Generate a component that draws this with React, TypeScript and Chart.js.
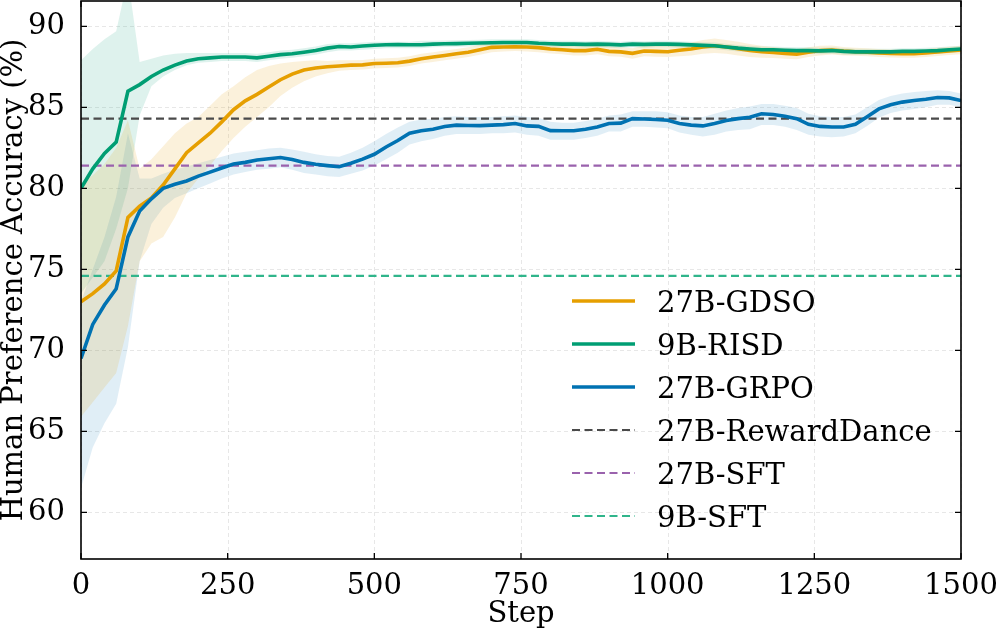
import { useEffect, useRef } from "react";
import { Chart, registerables } from "chart.js";

Chart.register(...registerables);

// Training steps at which each run was evaluated
const steps = [
  0, 20, 40, 60, 80, 100, 120, 140, 160, 180,
  200, 220, 240, 260, 280, 300, 320, 340, 360, 380,
  400, 420, 440, 460, 480, 500, 520, 540, 560, 580,
  600, 620, 640, 660, 680, 700, 720, 740, 760, 780,
  800, 820, 840, 860, 880, 900, 920, 940, 960, 980,
  1000, 1020, 1040, 1060, 1080, 1100, 1120, 1140, 1160, 1180,
  1200, 1220, 1240, 1260, 1280, 1300, 1320, 1340, 1360, 1380,
  1400, 1420, 1440, 1460, 1480, 1500,
];

// 27B-GDSO: mean accuracy and the spread band around it
const gdsoMean = [
  73.0, 73.5, 74.1, 74.9, 78.2, 78.9, 79.4, 80.2, 81.2, 82.2,
  82.8, 83.4, 84.1, 84.85, 85.4, 85.8, 86.25, 86.7, 87.05, 87.3,
  87.42, 87.5, 87.55, 87.6, 87.62, 87.7, 87.72, 87.75, 87.85, 88.0,
  88.1, 88.2, 88.3, 88.4, 88.55, 88.7, 88.72, 88.74, 88.72, 88.68,
  88.6, 88.55, 88.5, 88.5, 88.58, 88.45, 88.42, 88.33, 88.47, 88.45,
  88.43, 88.52, 88.6, 88.72, 88.8, 88.72, 88.62, 88.5, 88.43, 88.38,
  88.32, 88.28, 88.4, 88.5, 88.54, 88.47, 88.43, 88.4, 88.35, 88.32,
  88.3, 88.3, 88.35, 88.42, 88.48, 88.54,
];
const gdsoHigh = [
  80.3, 80.8, 81.5, 82.5, 84.2, 81.2, 81.8, 82.6, 83.4, 84.0,
  84.4, 85.1, 85.8, 86.3, 86.85, 87.3, 87.55, 87.7, 87.8, 87.85,
  87.9, 87.85, 87.9, 87.9, 87.92, 88.0, 88.02, 88.05, 88.15, 88.3,
  88.4, 88.5, 88.6, 88.7, 88.85, 89.0, 89.0, 89.02, 89.0, 88.96,
  88.88, 88.83, 88.8, 88.8, 88.88, 88.75, 88.7, 88.65, 88.8, 88.78,
  88.78, 88.9, 89.0, 89.15, 89.25, 89.15, 89.05, 88.9, 88.8, 88.72,
  88.65, 88.6, 88.7, 88.8, 88.82, 88.72, 88.68, 88.65, 88.6, 88.57,
  88.55, 88.55, 88.6, 88.67, 88.73, 88.8,
];
const gdsoLow = [
  65.9, 66.8, 67.7, 68.6, 71.5, 75.5, 76.6, 77.0, 78.2, 79.7,
  80.6, 81.4, 82.3, 83.1, 83.8, 84.4, 85.0, 85.7, 86.2, 86.6,
  86.9, 87.1, 87.25, 87.3, 87.33, 87.4, 87.43, 87.45, 87.55, 87.7,
  87.8, 87.9, 88.0, 88.1, 88.25, 88.4, 88.45, 88.47, 88.45, 88.4,
  88.32, 88.27, 88.2, 88.2, 88.28, 88.15, 88.12, 88.0, 88.15, 88.12,
  88.1, 88.15, 88.2, 88.3, 88.35, 88.3, 88.2, 88.1, 88.06, 88.04,
  88.0, 87.96, 88.1, 88.2, 88.26, 88.2, 88.18, 88.15, 88.1, 88.07,
  88.05, 88.05, 88.1, 88.17, 88.23, 88.28,
];

// 9B-RISD
const risdMean = [
  80.0, 81.2, 82.15, 82.85, 86.0, 86.4, 86.9, 87.3, 87.6, 87.85,
  88.0, 88.05, 88.1, 88.1, 88.1, 88.05, 88.15, 88.25, 88.3, 88.4,
  88.5, 88.65, 88.75, 88.72, 88.78, 88.83, 88.86, 88.87, 88.86, 88.86,
  88.9, 88.92, 88.93, 88.95, 88.97, 88.98, 89.0, 89.0, 89.0, 88.95,
  88.92, 88.9, 88.9, 88.88, 88.9, 88.88, 88.85, 88.9, 88.88, 88.9,
  88.9, 88.88, 88.85, 88.82, 88.8, 88.72, 88.65, 88.6, 88.55, 88.55,
  88.52, 88.5, 88.5, 88.48, 88.5, 88.45, 88.42, 88.42, 88.42, 88.42,
  88.45, 88.45, 88.47, 88.5, 88.55, 88.6,
];
const risdHigh = [
  87.9, 88.6, 89.2, 89.7, 93.0, 87.8, 88.0, 88.2, 88.3, 88.35,
  88.35, 88.35, 88.35, 88.35, 88.35, 88.3, 88.4, 88.5, 88.55, 88.65,
  88.75, 88.9, 88.95, 88.95, 89.0, 89.05, 89.05, 89.05, 89.05, 89.1,
  89.1, 89.12, 89.13, 89.15, 89.17, 89.2, 89.2, 89.2, 89.2, 89.15,
  89.12, 89.1, 89.1, 89.08, 89.1, 89.08, 89.05, 89.1, 89.08, 89.1,
  89.1, 89.08, 89.05, 89.02, 89.0, 88.92, 88.85, 88.8, 88.75, 88.75,
  88.72, 88.7, 88.7, 88.68, 88.7, 88.65, 88.62, 88.62, 88.62, 88.62,
  88.65, 88.65, 88.67, 88.7, 88.75, 88.8,
];
const risdLow = [
  73.5, 74.5, 75.5, 77.5, 80.0, 84.5, 86.3, 86.9, 87.3, 87.6,
  87.75, 87.8, 87.85, 87.85, 87.85, 87.8, 87.9, 88.0, 88.05, 88.15,
  88.25, 88.4, 88.5, 88.5, 88.55, 88.6, 88.65, 88.65, 88.65, 88.65,
  88.7, 88.72, 88.73, 88.75, 88.77, 88.78, 88.8, 88.8, 88.8, 88.75,
  88.72, 88.7, 88.7, 88.68, 88.7, 88.68, 88.65, 88.7, 88.68, 88.7,
  88.7, 88.68, 88.65, 88.62, 88.6, 88.52, 88.45, 88.4, 88.35, 88.35,
  88.32, 88.3, 88.3, 88.28, 88.3, 88.25, 88.22, 88.22, 88.22, 88.22,
  88.25, 88.25, 88.27, 88.3, 88.35, 88.4,
];

// 27B-GRPO
const grpoMean = [
  69.5, 71.6, 72.8, 73.8, 77.0, 78.6, 79.35, 80.0, 80.25, 80.45,
  80.75, 81.0, 81.25, 81.5, 81.6, 81.75, 81.82, 81.9, 81.78, 81.6,
  81.48, 81.4, 81.33, 81.55, 81.8, 82.1, 82.55, 82.95, 83.4, 83.55,
  83.65, 83.82, 83.9, 83.88, 83.87, 83.9, 83.93, 84.0, 83.85, 83.82,
  83.56, 83.55, 83.55, 83.65, 83.78, 84.0, 84.02, 84.3, 84.28, 84.25,
  84.2, 84.0, 83.9, 83.85, 84.0, 84.18, 84.3, 84.38, 84.6, 84.55,
  84.45, 84.3, 83.95, 83.82, 83.78, 83.78, 83.95, 84.42, 84.9, 85.15,
  85.32, 85.42, 85.5, 85.6, 85.58, 85.42,
];
const grpoHigh = [
  73.0, 75.0, 77.0, 79.5, 83.4, 80.6, 80.6, 80.9, 81.15, 81.35,
  81.55, 81.75, 81.95, 82.15, 82.25, 82.35, 82.45, 82.5, 82.4, 82.25,
  82.1, 82.0, 81.95, 82.2, 82.5, 82.9, 83.35, 83.75, 84.1, 84.25,
  84.3, 84.4, 84.45, 84.4, 84.4, 84.4, 84.45, 84.5, 84.4, 84.35,
  84.1, 84.05, 84.05, 84.15, 84.3, 84.5, 84.55, 84.75, 84.75, 84.75,
  84.7, 84.5, 84.4, 84.4, 84.6, 84.8, 84.95, 85.05, 85.2, 85.2,
  85.1, 84.95, 84.6, 84.45, 84.4, 84.4, 84.55, 85.0, 85.45, 85.7,
  85.85, 85.95, 86.0, 86.05, 86.0, 85.85,
];
const grpoLow = [
  61.5, 64.0, 65.5, 66.7, 70.2, 75.5, 77.8, 78.8, 79.4, 79.7,
  80.0, 80.3, 80.6, 80.85, 81.0, 81.15, 81.2, 81.3, 81.15, 80.95,
  80.85, 80.75, 80.7, 80.9, 81.1, 81.4, 81.8, 82.2, 82.7, 82.9,
  83.05, 83.25, 83.35, 83.35, 83.35, 83.4, 83.4, 83.45, 83.3, 83.25,
  83.0, 83.0, 83.0, 83.1, 83.25, 83.5, 83.5, 83.8, 83.8, 83.75,
  83.7, 83.45, 83.3, 83.2, 83.3, 83.5, 83.6, 83.65, 83.9, 83.9,
  83.8, 83.6, 83.3, 83.2, 83.15, 83.2, 83.4, 83.85, 84.35, 84.65,
  84.8, 84.9, 85.0, 85.15, 85.15, 85.0,
];

// Reference (non-trained) baselines
const rewardDance27B = 84.3;
const sft27B = 81.4;
const sft9B = 74.6;

const xTickValues = [0, 250, 500, 750, 1000, 1250, 1500];
const yTickValues = [60, 65, 70, 75, 80, 85, 90];

const X_MIN = 0;
const X_MAX = 1500;
const Y_MIN = 57.12;
const Y_MAX = 91.56;

const FONT_FAMILY = "'DejaVu Serif', 'Liberation Serif', serif";
const FONT_SIZE = 29;

const toPoints = (ys: number[]) => steps.map((s, i) => ({ x: s, y: ys[i] }));
const flatLine = (v: number) => [
  { x: X_MIN, y: v },
  { x: X_MAX, y: v },
];

const DASH = [8, 4.5];

// Grid, box frame with inward ticks, and the legend
const axesDecor = {
  id: "axesDecor",
  beforeDatasetsDraw(chart: any) {
    const { ctx, chartArea: a, scales } = chart;
    ctx.save();
    ctx.strokeStyle = "rgba(0,0,0,0.12)";
    ctx.lineWidth = 0.8;
    ctx.setLineDash([4, 3]);
    xTickValues.forEach((v) => {
      const p = Math.round(scales.x.getPixelForValue(v)) + 0.5;
      ctx.beginPath();
      ctx.moveTo(p, a.top);
      ctx.lineTo(p, a.bottom);
      ctx.stroke();
    });
    yTickValues.forEach((v) => {
      const p = Math.round(scales.y.getPixelForValue(v)) + 0.5;
      ctx.beginPath();
      ctx.moveTo(a.left, p);
      ctx.lineTo(a.right, p);
      ctx.stroke();
    });
    ctx.restore();
  },
  afterDatasetsDraw(chart: any) {
    const { ctx, chartArea: a, scales } = chart;
    ctx.save();
    // inward tick marks on all four sides
    ctx.strokeStyle = "#000";
    ctx.lineWidth = 1.3;
    ctx.setLineDash([]);
    const tl = 6;
    xTickValues.forEach((v) => {
      const p = scales.x.getPixelForValue(v);
      ctx.beginPath();
      ctx.moveTo(p, a.bottom);
      ctx.lineTo(p, a.bottom - tl);
      ctx.moveTo(p, a.top);
      ctx.lineTo(p, a.top + tl);
      ctx.stroke();
    });
    yTickValues.forEach((v) => {
      const p = scales.y.getPixelForValue(v);
      ctx.beginPath();
      ctx.moveTo(a.left, p);
      ctx.lineTo(a.left + tl, p);
      ctx.moveTo(a.right, p);
      ctx.lineTo(a.right - tl, p);
      ctx.stroke();
    });
    // axes box
    ctx.lineWidth = 1.6;
    ctx.strokeRect(a.left, a.top, a.right - a.left, a.bottom - a.top);

    // legend
    const items = chart.data.datasets.filter((d: any) => d.inLegend);
    const lineX0 = a.right - 389;
    const lineX1 = lineX0 + 63;
    const textX = lineX0 + 85;
    const rowY0 = a.top + 300;
    const rowGap = 43;
    ctx.font = `${FONT_SIZE}px ${FONT_FAMILY}`;
    ctx.textAlign = "left";
    ctx.textBaseline = "alphabetic";
    items.forEach((d: any, i: number) => {
      const y = rowY0 + i * rowGap;
      ctx.strokeStyle = d.borderColor;
      ctx.lineWidth = d.borderWidth;
      ctx.setLineDash(d.borderDash || []);
      ctx.beginPath();
      ctx.moveTo(lineX0, y);
      ctx.lineTo(lineX1, y);
      ctx.stroke();
      ctx.setLineDash([]);
      ctx.fillStyle = "#000";
      ctx.fillText(d.label, textX, y + FONT_SIZE * 0.365);
    });
    ctx.restore();
  },
};

const band = (label: string, high: number[], low: number[], color: string) => [
  {
    label: `${label} upper`,
    data: toPoints(high),
    borderWidth: 0,
    pointRadius: 0,
    backgroundColor: color,
    fill: "+1",
    order: 10,
  },
  {
    label: `${label} lower`,
    data: toPoints(low),
    borderWidth: 0,
    pointRadius: 0,
    fill: false,
    order: 10,
  },
];

export default function App() {
  const canvasRef = useRef<HTMLCanvasElement>(null);

  useEffect(() => {
    const canvas = canvasRef.current;
    if (!canvas) return;

    const tickFont = { family: FONT_FAMILY, size: FONT_SIZE };
    const titleFont = { family: FONT_FAMILY, size: FONT_SIZE, lineHeight: 1 };

    const chart = new Chart(canvas, {
      type: "line",
      data: {
        datasets: [
          ...band("27B-GDSO", gdsoHigh, gdsoLow, "rgba(230,159,0,0.14)"),
          ...band("9B-RISD", risdHigh, risdLow, "rgba(0,158,115,0.13)"),
          ...band("27B-GRPO", grpoHigh, grpoLow, "rgba(0,114,178,0.12)"),
          {
            label: "27B-GDSO",
            data: toPoints(gdsoMean),
            borderColor: "#E69F00",
            borderWidth: 3.6,
            pointRadius: 0,
            fill: false,
            order: 2,
            inLegend: true,
          },
          {
            label: "9B-RISD",
            data: toPoints(risdMean),
            borderColor: "#009E73",
            borderWidth: 3.6,
            pointRadius: 0,
            fill: false,
            order: 1,
            inLegend: true,
          },
          {
            label: "27B-GRPO",
            data: toPoints(grpoMean),
            borderColor: "#0072B2",
            borderWidth: 3.6,
            pointRadius: 0,
            fill: false,
            order: 0,
            inLegend: true,
          },
          {
            label: "27B-RewardDance",
            data: flatLine(rewardDance27B),
            borderColor: "#4a4a4a",
            borderWidth: 2.2,
            borderDash: DASH,
            pointRadius: 0,
            fill: false,
            order: 3,
            inLegend: true,
          },
          {
            label: "27B-SFT",
            data: flatLine(sft27B),
            borderColor: "#9a62ad",
            borderWidth: 2.2,
            borderDash: DASH,
            pointRadius: 0,
            fill: false,
            order: 3,
            inLegend: true,
          },
          {
            label: "9B-SFT",
            data: flatLine(sft9B),
            borderColor: "#30b58b",
            borderWidth: 2.2,
            borderDash: DASH,
            pointRadius: 0,
            fill: false,
            order: 3,
            inLegend: true,
          },
        ] as any,
      },
      options: {
        responsive: false,
        devicePixelRatio: 1,
        animation: false,
        layout: { padding: { left: 0, top: 1, right: 35, bottom: 0 } },
        plugins: {
          legend: { display: false },
          tooltip: { enabled: false },
        },
        elements: { line: { tension: 0 } },
        scales: {
          x: {
            type: "linear",
            min: X_MIN,
            max: X_MAX,
            afterBuildTicks: (s: any) => {
              s.ticks = xTickValues.map((v) => ({ value: v }));
            },
            afterFit: (s: any) => {
              s.height = 73;
              s.paddingLeft = 0;
              s.paddingRight = 0;
            },
            ticks: {
              font: tickFont,
              color: "#000",
              padding: 2,
              maxRotation: 0,
              autoSkip: false,
              callback: (v: any) => String(v),
            },
            grid: { display: false },
            border: { display: false },
            title: {
              display: true,
              text: "Step",
              font: titleFont,
              color: "#000",
              padding: { top: 0, bottom: 3 },
            },
          },
          y: {
            type: "linear",
            min: Y_MIN,
            max: Y_MAX,
            afterBuildTicks: (s: any) => {
              s.ticks = yTickValues.map((v) => ({ value: v }));
            },
            afterFit: (s: any) => {
              s.width = 81;
              s.paddingTop = 0;
              s.paddingBottom = 0;
            },
            ticks: {
              font: tickFont,
              color: "#000",
              padding: 8,
              autoSkip: false,
              callback: (v: any) => String(v),
            },
            grid: { display: false },
            border: { display: false },
            title: {
              display: true,
              text: "Human Preference Accuracy (%)",
              font: titleFont,
              color: "#000",
              padding: { top: 0, bottom: 0 },
            },
          },
        },
      },
      plugins: [axesDecor],
    });

    return () => chart.destroy();
  }, []);

  return (
    <div
      style={{
        position: "fixed",
        left: 0,
        top: 0,
        width: 996,
        height: 632,
        background: "#fff",
      }}
    >
      <canvas
        ref={canvasRef}
        width={996}
        height={632}
        style={{ display: "block", width: 996, height: 632 }}
      />
    </div>
  );
}
